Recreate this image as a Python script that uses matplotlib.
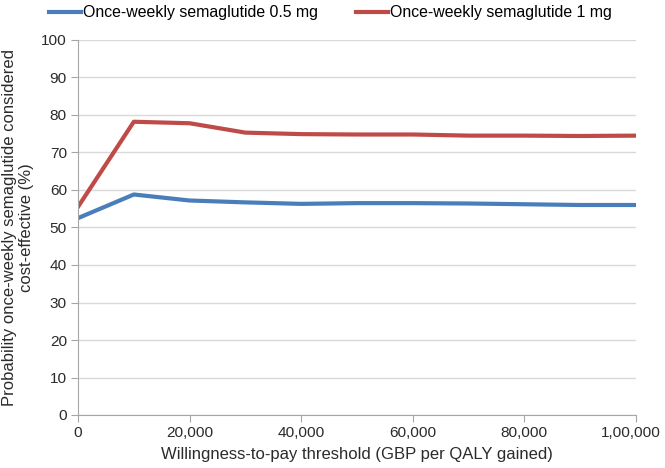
import matplotlib
matplotlib.use("Agg")
import matplotlib.pyplot as plt
import matplotlib.transforms as mtransforms

plt.rcParams["font.family"] = ["Liberation Sans", "DejaVu Sans"]

# willingness-to-pay thresholds (GBP per QALY gained)
wtp = [0, 10000, 20000, 30000, 40000, 50000, 60000, 70000, 80000, 90000, 100000]
sema_05 = [52.5, 58.8, 57.2, 56.7, 56.3, 56.5, 56.5, 56.4, 56.2, 56.0, 56.0]
sema_1 = [55.5, 78.2, 77.8, 75.3, 74.9, 74.8, 74.8, 74.5, 74.5, 74.4, 74.5]
series_labels = ["Once-weekly semaglutide 0.5 mg", "Once-weekly semaglutide 1 mg"]
x_ticks = [0, 20000, 40000, 60000, 80000, 100000]
x_tick_labels = ["0", "20,000", "40,000", "60,000", "80,000", "1,00,000"]

FS = 12
TEXT = "#2b2b2b"

fig = plt.figure(figsize=(6.65, 4.68), dpi=100)
ax = fig.add_axes([78 / 665, 1 - 415 / 468, (636 - 78) / 665, (415 - 40) / 468])

ax.plot(wtp, sema_05, color="#4a7ebb", lw=3, label=series_labels[0], solid_joinstyle="round")
ax.plot(wtp, sema_1, color="#be4b48", lw=3, label=series_labels[1], solid_joinstyle="round")

ax.set_xlim(0, 100000)
ax.set_ylim(0, 100)
ax.set_yticks(range(0, 101, 10))
ax.set_xticks(x_ticks)
ax.set_xticklabels(x_tick_labels)
ax.grid(axis="y", color="#d9d9d9", lw=1)
ax.set_axisbelow(True)

for side in ("top", "right"):
    ax.spines[side].set_visible(False)
for side in ("left", "bottom"):
    ax.spines[side].set_color("#a6a6a6")
ax.tick_params(axis="both", colors="#a6a6a6", labelcolor=TEXT, labelsize=11.1,
               direction="out", length=5, pad=3)

# last tick label sits against the right edge; nudge it in a little
last = ax.get_xticklabels()[-1]
last.set_transform(last.get_transform()
                   + mtransforms.ScaledTranslation(-5 / 100, 0, fig.dpi_scale_trans))

ax.set_xlabel("Willingness-to-pay threshold (GBP per QALY gained)", fontsize=FS,
              color=TEXT, labelpad=5)
ax.set_ylabel("Probability once-weekly semaglutide considered\ncost-effective (%)",
              fontsize=FS, color=TEXT, labelpad=5)

fig.legend(loc="center left", bbox_to_anchor=(49 / 665, 1 - 13 / 468), ncol=2, frameon=False,
           fontsize=11.4, handlelength=2.0, handletextpad=0.15, columnspacing=2.4,
           borderpad=0, borderaxespad=0)

fig.savefig("out.png", dpi=100)
